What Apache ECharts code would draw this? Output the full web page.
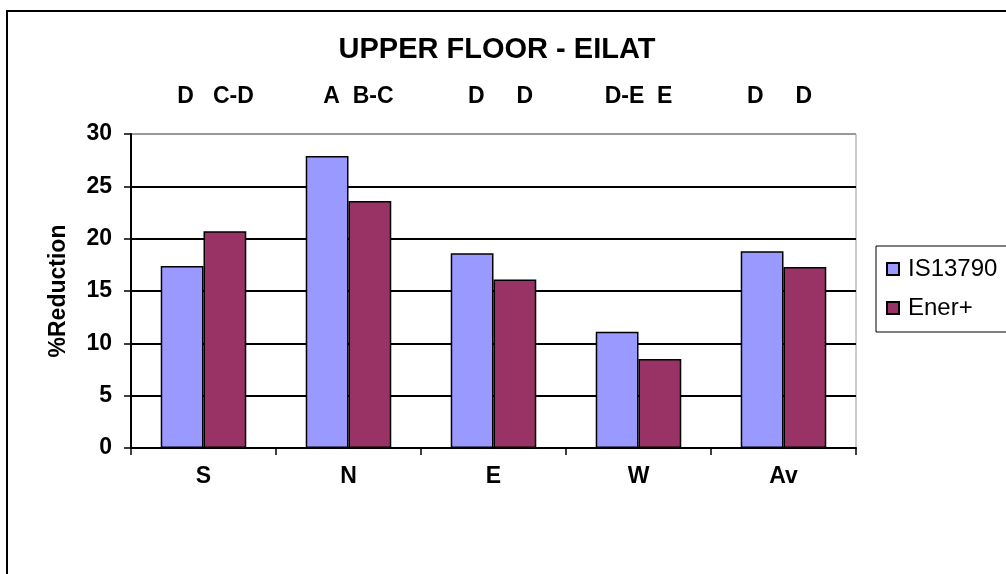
<!DOCTYPE html>
<html>
<head>
<meta charset="utf-8">
<script src="https://cdn.jsdelivr.net/npm/echarts@6/dist/echarts.min.js"></script>
<style>
    html, body {margin: 0; padding: 0; background: #fff;}
    #chart {width: 1006px; height: 574px;}
</style>
</head>
<body>
<div id="chart"></div>
<script>
// values
const categories = ['S', 'N', 'E', 'W', 'Av'];
const is13790 = [17.4, 27.9, 18.6, 11.1, 18.8];
const enerPlus = [20.7, 23.6, 16.1, 8.5, 17.3];
// grade letters shown above each group
const grades = ['D   C-D', 'A  B-C', 'D     D', 'D-E  E', 'D     D'];

const font = 'Liberation Sans, Arial, sans-serif';
// the grade text sits a little off the group centre in the original
const gradeShift = [12, 10, 7, 0, -4];

let chart = echarts.init(document.getElementById('chart'));
chart.setOption({
    animation: false,
    backgroundColor: '#fff',
    title: {
        text: 'UPPER FLOOR - EILAT',
        left: 492,
        textAlign: 'center',
        top: 30,
        textStyle: {fontFamily: font, fontSize: 29, fontWeight: 'bold', color: '#000'}
    },
    graphic: [{
        type: 'rect',
        shape: {x: 7, y: 11, width: 1100, height: 700},
        style: {fill: 'none', stroke: '#000', lineWidth: 2},
        silent: true
    }],
    legend: {
        orient: 'vertical',
        left: 876,
        top: 246,
        width: 130,
        padding: [11, 20, 12, 10],
        itemGap: 15,
        itemWidth: 12,
        itemHeight: 12,
        borderColor: '#000',
        borderWidth: 1,
        icon: 'rect',
        textStyle: {fontFamily: font, fontSize: 24, color: '#000', padding: [0, 0, 0, 4]},
        data: ['IS13790', 'Ener+']
    },
    grid: {left: 131, right: 150, top: 134, bottom: 126, show: true, borderColor: '#999', borderWidth: 1},
    xAxis: [{
        type: 'category',
        data: categories,
        axisLine: {lineStyle: {color: '#000', width: 2}},
        axisTick: {show: true, length: 7, lineStyle: {color: '#000', width: 1.5}},
        axisLabel: {margin: 17, fontFamily: font, fontSize: 23, fontWeight: 'bold', color: '#000'}
    }, {
        type: 'category',
        position: 'top',
        data: grades.map((g, i) => ({
            value: g,
            textStyle: gradeShift[i] >= 0
                ? {padding: [0, 0, 0, gradeShift[i] * 2]}
                : {padding: [0, -gradeShift[i] * 2, 0, 0]}
        })),
        axisLine: {show: false},
        axisTick: {show: false},
        axisLabel: {margin: 26, fontFamily: font, fontSize: 23, fontWeight: 'bold', color: '#000'}
    }],
    yAxis: {
        type: 'value',
        min: 0,
        max: 30,
        interval: 5,
        name: '%Reduction',
        nameLocation: 'middle',
        nameGap: 61,
        nameTextStyle: {fontFamily: font, fontSize: 23, fontWeight: 'bold', color: '#000'},
        axisLine: {show: true, lineStyle: {color: '#000', width: 2}},
        axisTick: {show: true, length: 7, lineStyle: {color: '#000', width: 1.5}},
        axisLabel: {margin: 19, fontFamily: font, fontSize: 23, fontWeight: 'bold', color: '#000'},
        splitLine: {lineStyle: {color: ['#000', '#000', '#000', '#000', '#000', '#000', '#999'], width: 2}}
    },
    series: [{
        name: 'IS13790',
        type: 'bar',
        data: is13790,
        barGap: '0%',
        barCategoryGap: '41%',
        itemStyle: {color: '#9999FF', borderColor: '#000', borderWidth: 1.5}
    }, {
        name: 'Ener+',
        type: 'bar',
        data: enerPlus,
        barGap: '0%',
        barCategoryGap: '41%',
        itemStyle: {color: '#993366', borderColor: '#000', borderWidth: 1.5}
    }]
});
</script>
</body>
</html>
